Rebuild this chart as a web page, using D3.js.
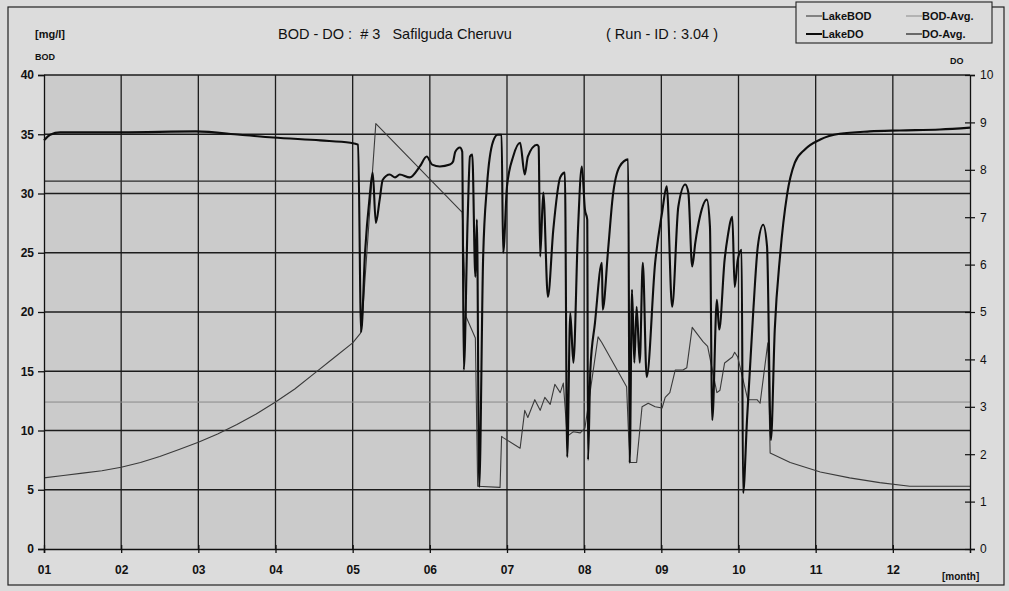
<!DOCTYPE html>
<html>
<head>
<meta charset="utf-8">
<script src="https://cdn.jsdelivr.net/npm/d3@7"></script>
<style>
  html, body { margin: 0; padding: 0; background: #dcdcdc; }
  svg { display: block; }
  text { font-family: "Liberation Sans", Arial, sans-serif; fill: #111; }
</style>
</head>
<body>
<svg id="chart" width="1009" height="591"></svg>
<script>
// Lake BOD / DO simulation over one year (time in months, values in mg/l)
const monthLabels = ["01","02","03","04","05","06","07","08","09","10","11","12"];
const bodTicks = [0, 5, 10, 15, 20, 25, 30, 35, 40];
const doTicks = [0, 1, 2, 3, 4, 5, 6, 7, 8, 9, 10];

const bodAvg = 12.4;
const doAvg = 7.76;

// [month, BOD mg/l]
const lakeBOD = [
  [1.00, 6.0], [1.25, 6.2], [1.5, 6.4], [1.75, 6.6], [2.0, 6.9], [2.25, 7.3],
  [2.5, 7.8], [2.75, 8.4], [3.0, 9.0], [3.25, 9.7], [3.5, 10.5], [3.75, 11.4],
  [4.0, 12.4], [4.25, 13.5], [4.5, 14.8], [4.75, 16.1], [5.0, 17.4],
  [5.10, 18.2], [5.12, 19.0],
  [5.30, 35.9], [6.42, 28.4], [6.47, 19.6], [6.59, 17.8], [6.62, 5.3],
  [6.91, 5.2], [6.93, 9.5], [6.95, 9.4], [7.17, 8.5], [7.23, 11.7],
  [7.27, 11.1], [7.36, 12.6], [7.43, 11.7], [7.49, 12.8], [7.56, 12.2],
  [7.62, 13.9], [7.69, 13.2], [7.73, 14.0], [7.78, 9.5], [7.86, 9.9],
  [7.95, 9.8], [8.01, 10.2], [8.18, 17.9], [8.23, 17.4], [8.55, 13.7],
  [8.59, 7.3], [8.68, 7.3], [8.75, 12.0], [8.83, 12.3], [8.92, 12.0],
  [9.01, 11.9], [9.05, 12.8], [9.11, 13.2], [9.18, 15.1], [9.28, 15.1],
  [9.33, 15.3], [9.40, 18.7], [9.54, 17.5], [9.60, 17.1], [9.72, 13.2],
  [9.76, 13.4], [9.82, 15.7], [9.92, 16.2], [9.95, 16.6], [9.99, 16.2],
  [10.12, 12.6], [10.24, 12.6], [10.28, 12.3], [10.38, 17.4], [10.41, 8.1],
  [10.67, 7.3], [11.06, 6.5], [11.44, 6.0], [11.83, 5.6], [12.22, 5.3],
  [13.0, 5.3]
];

// [month, DO mg/l]
const lakeDO = [
  [1.00, 8.62], [1.08, 8.74], [1.21, 8.79], [2.01, 8.79], [2.97, 8.81],
  [3.54, 8.74], [3.97, 8.68], [4.58, 8.62], [4.97, 8.57], [5.07, 8.53],
  [5.11, 4.58], [5.16, 6.25], [5.22, 7.43], [5.26, 7.94], [5.30, 6.88],
  [5.35, 7.37], [5.39, 7.79], [5.48, 7.90], [5.55, 7.84], [5.61, 7.90],
  [5.74, 7.84], [5.87, 8.07], [5.96, 8.28], [6.03, 8.11], [6.13, 8.07],
  [6.26, 8.11], [6.30, 8.17], [6.33, 8.38], [6.39, 8.47], [6.42, 8.38],
  [6.44, 3.78], [6.49, 6.95], [6.52, 8.28], [6.55, 8.32], [6.59, 5.74],
  [6.61, 6.95], [6.64, 1.31], [6.69, 6.10], [6.74, 7.65], [6.82, 8.60],
  [6.88, 8.74], [6.93, 8.74], [6.95, 6.25], [7.00, 7.65], [7.08, 8.28],
  [7.17, 8.57], [7.23, 7.90], [7.27, 8.28], [7.39, 8.53], [7.41, 8.49],
  [7.43, 6.17], [7.47, 7.52], [7.53, 5.32], [7.60, 6.74], [7.69, 7.84],
  [7.75, 7.94], [7.78, 1.94], [7.82, 4.98], [7.86, 3.93], [7.92, 6.74],
  [7.97, 8.07], [8.01, 7.16], [8.04, 6.95], [8.05, 1.88], [8.08, 3.78],
  [8.14, 4.77], [8.23, 6.04], [8.24, 5.05], [8.31, 6.31], [8.37, 7.43],
  [8.46, 8.07], [8.57, 8.22], [8.59, 1.82], [8.62, 5.47], [8.65, 3.93],
  [8.68, 5.11], [8.72, 3.93], [8.76, 6.04], [8.81, 3.63], [8.92, 6.04],
  [9.01, 7.10], [9.07, 7.65], [9.14, 5.11], [9.22, 7.22], [9.31, 7.69],
  [9.35, 7.52], [9.40, 5.96], [9.44, 6.46], [9.50, 7.01], [9.59, 7.37],
  [9.63, 6.80], [9.66, 2.72], [9.72, 5.26], [9.75, 4.63], [9.82, 6.10],
  [9.86, 6.59], [9.92, 7.01], [9.95, 5.53], [9.99, 6.10], [10.04, 6.31],
  [10.06, 1.18], [10.11, 2.72], [10.19, 4.98], [10.25, 6.38], [10.32, 6.84],
  [10.37, 6.38], [10.42, 2.30], [10.47, 4.63], [10.54, 6.21], [10.63, 7.48],
  [10.73, 8.15], [10.86, 8.43], [11.06, 8.64], [11.31, 8.76], [11.70, 8.81],
  [12.09, 8.83], [12.61, 8.85], [13.00, 8.89]
];

const svg = d3.select("#chart");
const plot = { left: 44, right: 970, top: 75, bottom: 549 };

const x = d3.scaleLinear().domain([1, 13]).range([plot.left, plot.right]);
const yB = d3.scaleLinear().domain([0, 40]).range([plot.bottom, plot.top]);
const yD = d3.scaleLinear().domain([0, 10]).range([plot.bottom, plot.top]);

// outer frame
svg.append("rect").attr("x", 8).attr("y", 7).attr("width", 996).attr("height", 578)
  .attr("fill", "#dcdcdc").attr("stroke", "#222").attr("stroke-width", 1.2);

// plot background
svg.append("rect")
  .attr("x", plot.left).attr("y", plot.top)
  .attr("width", plot.right - plot.left).attr("height", plot.bottom - plot.top)
  .attr("fill", "#cbcbcb");

// horizontal grid
svg.append("g").selectAll("line").data(bodTicks.filter(d => d > 0)).join("line")
  .attr("x1", plot.left).attr("x2", plot.right)
  .attr("y1", d => yB(d)).attr("y2", d => yB(d))
  .attr("stroke", "#1c1c1c").attr("stroke-width", 1.3);

// vertical grid at month starts
svg.append("g").selectAll("line").data(d3.range(2, 13)).join("line")
  .attr("x1", d => x(d)).attr("x2", d => x(d))
  .attr("y1", plot.top).attr("y2", plot.bottom)
  .attr("stroke", "#1c1c1c").attr("stroke-width", 1.3);

// average lines
svg.append("line").attr("x1", plot.left).attr("x2", plot.right)
  .attr("y1", yB(bodAvg)).attr("y2", yB(bodAvg))
  .attr("stroke", "#8a8a8a").attr("stroke-width", 1);
svg.append("line").attr("x1", plot.left).attr("x2", plot.right)
  .attr("y1", yD(doAvg)).attr("y2", yD(doAvg))
  .attr("stroke", "#2a2a2a").attr("stroke-width", 1.3);

// series: BOD drawn with straight segments, DO smoothed
const lineB = d3.line().x(d => x(d[0])).y(d => yB(d[1]));
const lineD = d3.line().x(d => x(d[0])).y(d => yD(d[1])).curve(d3.curveMonotoneX);

svg.append("path").datum(lakeBOD).attr("d", lineB)
  .attr("fill", "none").attr("stroke", "#3a3a3a").attr("stroke-width", 1.1)
  .attr("stroke-linejoin", "round");
svg.append("path").datum(lakeDO).attr("d", lineD)
  .attr("fill", "none").attr("stroke", "#0d0d0d").attr("stroke-width", 2.1)
  .attr("stroke-linejoin", "round");

// left axis (BOD)
const axL = svg.append("g").attr("transform", `translate(${plot.left},0)`)
  .call(d3.axisLeft(yB).tickValues(bodTicks).tickSize(6).tickPadding(4));
axL.select(".domain").attr("stroke", "#111").attr("stroke-width", 1.3);
axL.selectAll(".tick line").attr("stroke", "#111").attr("stroke-width", 1.3);
axL.selectAll("text").style("font-size", "12px").style("font-weight", "bold")
  .attr("fill", "#111");

// right axis (DO), ticks crossing the axis
const axR = svg.append("g").attr("transform", `translate(${plot.right},0)`)
  .call(d3.axisRight(yD).tickValues(doTicks).tickSize(5).tickPadding(5));
axR.select(".domain").attr("stroke", "#111").attr("stroke-width", 1.3);
axR.selectAll(".tick line").attr("x1", -5).attr("stroke", "#111").attr("stroke-width", 1.2);
axR.selectAll("text").style("font-size", "12px").attr("fill", "#222");

// bottom axis (months)
const axB = svg.append("g").attr("transform", `translate(0,${plot.bottom})`)
  .call(d3.axisBottom(x).tickValues(d3.range(1, 13))
    .tickFormat((d, i) => monthLabels[i]).tickSize(4).tickPadding(12));
axB.select(".domain").attr("stroke", "#111").attr("stroke-width", 1.5);
axB.selectAll(".tick line").attr("y1", -4).attr("stroke", "#111").attr("stroke-width", 1.3);
axB.selectAll("text").style("font-size", "12px").style("font-weight", "bold").attr("fill", "#111");

// axis captions
svg.append("text").attr("x", 35).attr("y", 38).text("[mg/l]")
  .style("font-size", "11px").style("font-weight", "bold");
svg.append("text").attr("x", 35).attr("y", 60).text("BOD")
  .style("font-size", "9px").style("font-weight", "bold");
svg.append("text").attr("x", 950).attr("y", 64).text("DO")
  .style("font-size", "9px").style("font-weight", "bold");
svg.append("text").attr("x", 942).attr("y", 580).text("[month]")
  .style("font-size", "10px").style("font-weight", "bold");

// title
svg.append("text").attr("x", 278).attr("y", 39)
  .text("BOD - DO :  # 3   Safilguda Cheruvu")
  .style("font-size", "14.5px").style("white-space", "pre");
svg.append("text").attr("x", 606).attr("y", 39)
  .text("( Run - ID : 3.04 )")
  .style("font-size", "14.5px").style("white-space", "pre");

// legend
const lg = svg.append("g");
lg.append("rect").attr("x", 796).attr("y", 2).attr("width", 196).attr("height", 41)
  .attr("fill", "#dcdcdc").attr("stroke", "#222").attr("stroke-width", 1.1);
const legendItems = [
  { label: "LakeBOD", lx: 806, ly: 16, stroke: "#3a3a3a", sw: 1.1 },
  { label: "LakeDO",  lx: 806, ly: 34, stroke: "#0d0d0d", sw: 2.0 },
  { label: "BOD-Avg.", lx: 906, ly: 16, stroke: "#8a8a8a", sw: 1.0 },
  { label: "DO-Avg.",  lx: 906, ly: 34, stroke: "#2a2a2a", sw: 1.3 }
];
legendItems.forEach(it => {
  lg.append("line").attr("x1", it.lx).attr("x2", it.lx + 16)
    .attr("y1", it.ly).attr("y2", it.ly)
    .attr("stroke", it.stroke).attr("stroke-width", it.sw);
  lg.append("text").attr("x", it.lx + 16).attr("y", it.ly + 4).text(it.label)
    .style("font-size", "11px").style("font-weight", "bold");
});
</script>
</body>
</html>
